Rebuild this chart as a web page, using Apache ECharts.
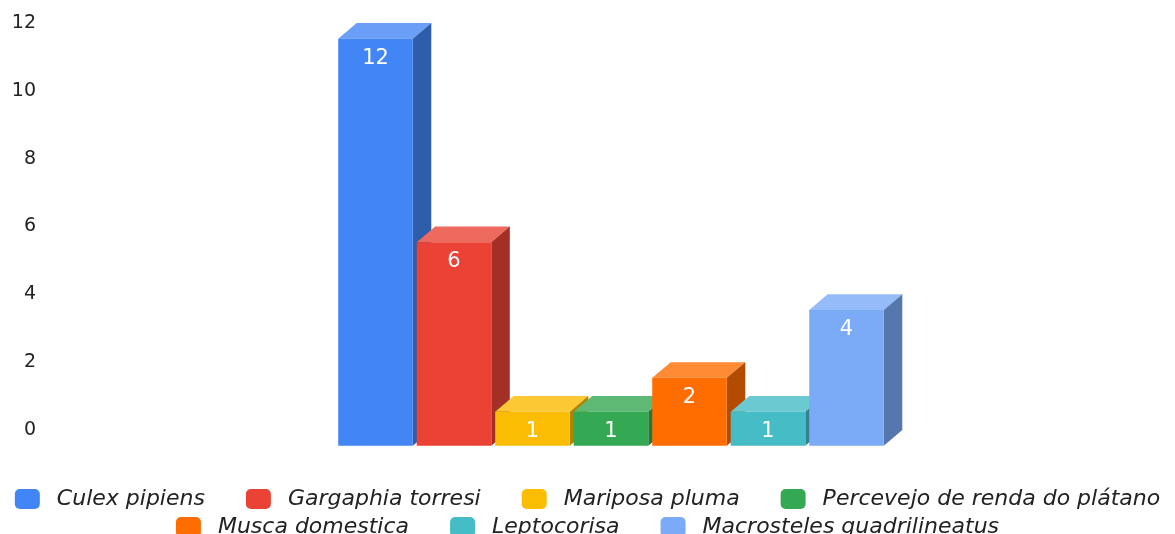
<!DOCTYPE html>
<html>
<head>
<meta charset="utf-8">
<script src="https://cdn.jsdelivr.net/npm/echarts@6/dist/echarts.min.js"></script>
<style>
html,body{margin:0;padding:0;background:#fff;}
#chart{width:1175px;height:534px;}
</style>
</head>
<body>
<div id="chart"></div>
<script>
// ---- data ----
const categories = ['Culex pipiens', 'Gargaphia torresi', 'Mariposa pluma', 'Percevejo de renda do plátano', 'Musca domestica', 'Leptocorisa', 'Macrosteles quadrilineatus'];
const values = [12, 6, 1, 1, 2, 1, 4];
const yMin = 0, yMax = 12, yInterval = 2;
const legendRow1 = categories.slice(0, 4);
const legendRow2 = categories.slice(4);

// ---- styles ----
const frontColors = ['#4285F4', '#EA4335', '#FBBC04', '#34A853', '#FF6D01', '#46BDC6', '#7BAAF7'];
const topColors   = ['#6B9EF6', '#EE695E', '#FCC935', '#5DB974', '#FF8B35', '#6BCAD1', '#95BBF9'];
const sideColors  = ['#2E5DAB', '#A32F25', '#B08403', '#257639', '#B34C01', '#31848B', '#5677AD'];
const FONT = '"DejaVu Sans", sans-serif';
const DX = 18.5, DY = 15.7;

function renderBar(params, api) {
  const idx = params.seriesIndex;
  const cat = api.value(0);
  const v = api.value(1);
  const topPt = api.coord([cat, v]);
  const basePt = api.coord([cat, 0]);
  const w = api.size([1, 0])[0] * 0.95;
  const x0 = topPt[0] - w / 2, x1 = topPt[0] + w / 2;
  const yTop = topPt[1] + DY, yBot = basePt[1] + DY;
  return {
    type: 'group',
    children: [
      { type: 'polygon', shape: { points: [[x0, yTop], [x1, yTop], [x1 + DX, yTop - DY], [x0 + DX, yTop - DY]] }, style: { fill: topColors[idx] } },
      { type: 'polygon', shape: { points: [[x1, yTop], [x1 + DX, yTop - DY], [x1 + DX, yBot - DY], [x1, yBot]] }, style: { fill: sideColors[idx] } },
      { type: 'rect', shape: { x: x0, y: yTop, width: w, height: yBot - yTop }, style: { fill: frontColors[idx] } },
      { type: 'text', style: { text: String(v), x: topPt[0], y: yTop + 19.5, fill: '#ffffff', font: '21px ' + FONT, textAlign: 'center', textVerticalAlign: 'middle' } }
    ]
  };
}

const series = categories.map((name, i) => ({
  name: name,
  type: 'custom',
  xAxisIndex: 1,
  yAxisIndex: 1,
  itemStyle: { color: frontColors[i] },
  renderItem: renderBar,
  encode: { x: 0, y: 1 },
  data: [[i, values[i]]]
}));

const legendCommon = {
  orient: 'horizontal',
  left: 'center',
  icon: 'roundRect',
  itemWidth: 25,
  itemHeight: 20,
  itemGap: 41,
  selectedMode: false,
  textStyle: { fontFamily: FONT, fontStyle: 'italic', fontSize: 22, color: '#222222', padding: [0, 0, 0, 12] }
};

const option = {
  backgroundColor: '#ffffff',
  animation: false,
  grid: [
    { left: 46, width: 10, top: 23, bottom: 104 },
    { left: 336.25, right: 289.25, top: 23, bottom: 104 }
  ],
  xAxis: [
    { gridIndex: 0, type: 'value', show: false },
    { gridIndex: 1, type: 'category', data: categories, show: false, boundaryGap: true }
  ],
  yAxis: [
    { gridIndex: 0, type: 'value', min: yMin, max: yMax, interval: yInterval,
      axisLine: { show: false }, axisTick: { show: false }, splitLine: { show: false },
      axisLabel: { margin: 10, fontFamily: FONT, fontSize: 19, color: '#222222' } },
    { gridIndex: 1, type: 'value', min: yMin, max: yMax, interval: yInterval, show: false, splitLine: { show: false } }
  ],
  legend: [
    Object.assign({}, legendCommon, { top: 483, data: legendRow1 }),
    Object.assign({}, legendCommon, { top: 511, data: legendRow2 })
  ],
  series: series
};

const chart = echarts.init(document.getElementById('chart'), null, { renderer: 'canvas' });
chart.setOption(option);
</script>
</body>
</html>
